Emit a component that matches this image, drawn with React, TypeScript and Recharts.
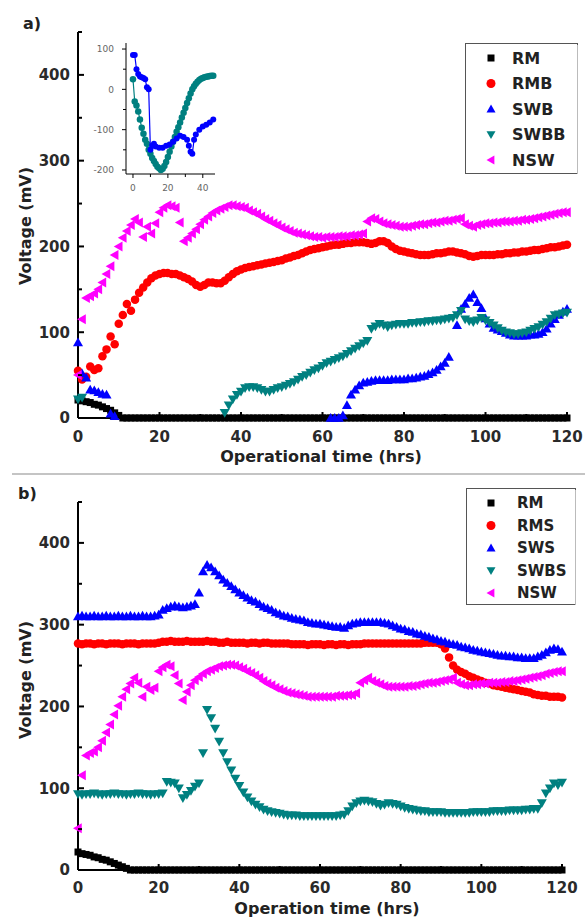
import React from "react";
import { ScatterChart, Scatter, XAxis, YAxis } from "recharts";

const N = null;
const HOURS = Array.from({ length: 121 }, (_, i) => i);

const BLACK = "#000000";
const RED = "#ff0000";
const BLUE = "#0000ff";
const TEAL = "#008080";
const PINK = "#ff00ff";

// ---- a) ----
const RM_A = [
  21, 20, 19, 18, 16, 15, 13, 11, 9, 6,
  3, 0, 0, 0, 0, 0, 0, 0, 0, 0,
  0, 0, 0, 0, 0, 0, 0, 0, 0, 0,
  0, 0, 0, 0, 0, 0, 0, 0, 0, 0,
  0, 0, 0, 0, 0, 0, 0, 0, 0, 0,
  0, 0, 0, 0, 0, 0, 0, 0, 0, 0,
  0, 0, 0, 0, 0, 0, 0, 0, 0, 0,
  0, 0, 0, 0, 0, 0, 0, 0, 0, 0,
  0, 0, 0, 0, 0, 0, 0, 0, 0, 0,
  0, 0, 0, 0, 0, 0, 0, 0, 0, 0,
  0, 0, 0, 0, 0, 0, 0, 0, 0, 0,
  0, 0, 0, 0, 0, 0, 0, 0, 0, 0,
  0,
];
const RMB_A = [
  55, 45, 48, 60, 56, 58, 72, 80, 95, 86,
  110, 120, 133, 125, 138, 146, 152, 158, 163, 166,
  168, 169, 169, 168, 168, 166, 164, 162, 159, 155,
  153, 155, 158, 158, 157, 157, 160, 164, 168, 171,
  173, 175, 176, 177, 178, 179, 180, 181, 182, 183,
  184, 186, 187, 189, 190, 192, 194, 196, 197, 198,
  199, 200, 201, 202, 202, 203, 204, 204, 205, 205,
  205, 204, 203, 204, 206, 206, 204, 200, 197, 195,
  194, 193, 192, 191, 190, 190, 190, 191, 192, 192,
  193, 194, 194, 193, 192, 191, 189, 188, 189, 190,
  190, 190, 190, 191, 191, 192, 192, 193, 193, 194,
  194, 195, 196, 196, 197, 198, 199, 199, 200, 201,
  202,
];
const SWB_A = [
  88, 52, 47, 33, 32, 30, 28, 27, 5, 2,
  N, N, N, N, N, N, N, N, N, N,
  N, N, N, N, N, N, N, N, N, N,
  N, N, N, N, N, N, N, N, N, N,
  N, N, N, N, N, N, N, N, N, N,
  N, N, N, N, N, N, N, N, N, N,
  N, N, 0, 0, 0, 3, 15, 27, 33, 38,
  41, 42, 43, 44, 44, 44, 44, 45, 45, 45,
  45, 46, 46, 47, 48, 49, 51, 53, 56, 60,
  64, 71, N, 108, 127, 133, 140, 144, 135, 128,
  116, 110, 105, 103, 101, 99, 97, 96, 96, 96,
  96, 97, 97, 98, 100, 104, 110, 115, 120, 124,
  127,
];
const SWBB_A = [
  22, 24, N, N, N, N, N, N, N, N,
  N, N, N, N, N, N, N, N, N, N,
  N, N, N, N, N, N, N, N, N, N,
  N, N, N, N, N, N, 6, 15, 22, 27,
  31, 35, 36, 36, 35, 33, 31, 31, 33, 35,
  36, 38, 40, 42, 45, 48, 50, 53, 56, 58,
  61, 64, 66, 68, 70, 72, 75, 78, 81, 84,
  87, 90, 104, 107, 110, 108, 106, 108, 109, 110,
  110, 110, 111, 111, 112, 112, 113, 113, 114, 114,
  115, 116, 117, 120, 125, 115, 113, 112, 114, 117,
  114, 111, 108, 105, 102, 100, 99, 98, 98, 99,
  100, 102, 104, 106, 109, 112, 116, 120, 121, 122,
  123,
];
const NSW_A = [
  50, 115, 140, 142, 145, 150, 158, 168, 177, 190,
  200, 210, 218, 225, 232, 228, 211, 223, 215, 227,
  240, 245, 248, 247, 245, 228, 206, 210, 215, 220,
  226, 231, 235, 239, 242, 244, 246, 248, 248, 247,
  246, 245, 242, 240, 238, 235, 232, 230, 227, 225,
  222, 220, 218, 216, 215, 214, 213, 212, 211, 211,
  210, 211, 211, 211, 212, 212, 212, 213, 213, 214,
  215, 229, 233, 232, 229, 227, 226, 225, 224, 223,
  223, 223, 224, 225, 226, 226, 227, 228, 228, 229,
  230, 230, 231, 232, 233, 226, 224, 223, 225, 226,
  227, 227, 228, 228, 229, 229, 229, 230, 230, 231,
  231, 232, 233, 234, 235, 236, 237, 238, 239, 240,
  240,
];

// inset of a): early hours, negative values included
const INSET_T_SWB = [0, 1, 2, 3, 4, 5, 6, 7, 8, 9, 10, 11, 12, 13, 15, 17, 19, 21, 23, 25, 27, 29, 31, 32, 33, 34, 35, 36, 38, 40, 42, 44, 46];
const INSET_SWB = [85, 85, 50, 38, 32, 30, 28, 25, 5, 0, -150, -140, -135, -142, -145, -145, -140, -137, -130, -122, -115, -118, -125, -140, -155, -160, -125, -112, -100, -92, -88, -82, -75];
const INSET_T_SWBB = [
  0, 1, 2, 3, 4, 5, 6, 7, 8, 9, 10, 11, 12, 13, 14, 15, 16, 17, 18, 19, 20, 21, 22, 23,
  24, 25, 26, 27, 28, 29, 30, 31, 32, 33, 34, 35, 36, 37, 38, 39, 40, 41, 42, 43, 44, 45, 46,
];
const INSET_SWBB = [
  25, -30, -40, -55, -75, -95, -110, -125, -135, -150, -160, -170, -178, -185, -192, -196, -200, -197, -190, -180, -168, -155, -142, -130,
  -118, -105, -94, -82, -70, -58, -46, -34, -22, -10, 0, 8, 14, 19, 23, 26, 28, 30, 31, 32, 33, 34, 34,
];

// ---- b) ----
const RM_B = [
  22, 20, 19, 18, 16, 15, 13, 12, 10, 8,
  6, 4, 2, 0, 0, 0, 0, 0, 0, 0,
  0, 0, 0, 0, 0, 0, 0, 0, 0, 0,
  0, 0, 0, 0, 0, 0, 0, 0, 0, 0,
  0, 0, 0, 0, 0, 0, 0, 0, 0, 0,
  0, 0, 0, 0, 0, 0, 0, 0, 0, 0,
  0, 0, 0, 0, 0, 0, 0, 0, 0, 0,
  0, 0, 0, 0, 0, 0, 0, 0, 0, 0,
  0, 0, 0, 0, 0, 0, 0, 0, 0, 0,
  0, 0, 0, 0, 0, 0, 0, 0, 0, 0,
  0, 0, 0, 0, 0, 0, 0, 0, 0, 0,
  0, 0, 0, 0, 0, 0, 0, 0, 0, 0,
  0,
];
const RMS_B = [
  277, 276, 277, 277, 276, 277, 277, 276, 277, 277,
  277, 276, 277, 277, 277, 276, 277, 277, 277, 277,
  278, 279, 279, 280, 279, 279, 279, 280, 279, 279,
  279, 279, 280, 279, 279, 278, 278, 279, 278, 278,
  278, 278, 277, 278, 278, 277, 278, 278, 277, 277,
  277, 277, 277, 276, 276, 276, 276, 275, 276, 276,
  276, 275, 276, 276, 275, 276, 276, 275, 276, 276,
  276, 277, 277, 277, 277, 277, 277, 277, 277, 277,
  277, 277, 277, 277, 277, 277, 278, 278, 278, 278,
  276, 271, 260, 250, 245, 242, 240, 237, 235, 233,
  231, 229, 228, 226, 225, 224, 223, 222, 221, 220,
  219, 218, 217, 215, 214, 213, 213, 212, 212, 212,
  211,
];
const SWS_B = [
  310, 311, 310, 310, 311, 310, 310, 311, 310, 310,
  311, 310, 310, 311, 310, 310, 311, 310, 310, 311,
  312, 318, 320, 322, 323, 322, 321, 322, 323, 325,
  339, 365, 373, 370, 365, 360, 355, 351, 347, 343,
  339, 336, 333, 330, 328, 325, 322, 320, 318, 315,
  313, 311, 310, 308, 307, 306, 305, 303, 302, 301,
  301, 300, 299, 298, 297, 297, 296, 299, 301, 302,
  303, 303, 303, 303, 303, 303, 302, 301, 299, 297,
  295, 294, 292, 291, 289, 288, 286, 285, 283, 282,
  280, 279, 277, 276, 275, 273, 272, 271, 269, 268,
  267, 266, 265, 264, 263, 262, 262, 261, 261, 260,
  260, 259, 259, 259, 261, 263, 266, 269, 271, 270,
  267,
];
const SWBS_B = [
  93, 92, 93, 93, 94, 93, 92, 93, 93, 94,
  93, 93, 92, 93, 93, 94, 93, 93, 92, 93,
  93, 94, 108, 107, 106, 100, 88, 92, 97, 102,
  106, 143, 196, 186, 173, 157, 143, 132, 122, 112,
  103, 95, 89, 84, 80, 77, 74, 72, 71, 70,
  69, 68, 67, 67, 67, 66, 66, 66, 66, 66,
  66, 66, 66, 66, 66, 67, 68, 72, 78, 82,
  84, 85, 84, 83, 81, 79, 80, 82, 81, 80,
  78, 76, 75, 74, 73, 72, 72, 71, 71, 71,
  71, 70, 70, 70, 70, 70, 70, 70, 71, 71,
  71, 71, 71, 72, 72, 72, 72, 73, 73, 73,
  73, 74, 74, 75, 75, 82, 94, 100, 106, 104,
  107,
];
const NSW_B = [
  51, 116, 140, 143, 145, 150, 158, 168, 178, 190,
  201, 212, 221, 228, 235, 229, 212, 224, 220, 223,
  243, 248, 251, 249, 238, 228, 208, 218, 226, 232,
  236, 240, 243, 245, 247, 249, 250, 251, 251, 250,
  248, 246, 243, 241, 238, 235, 231, 228, 226, 223,
  221, 219, 217, 216, 215, 214, 213, 212, 212, 212,
  212, 212, 212, 212, 213, 213, 213, 214, 214, 216,
  229, 232, 235, 231, 229, 227, 225, 224, 224, 224,
  224, 224, 225, 225, 226, 227, 228, 229, 229, 230,
  231, 232, 233, 235, 229, 227, 226, 226, 227, 227,
  228, 228, 229, 229, 229, 230, 230, 231, 231, 232,
  233, 234, 235, 236, 237, 238, 240, 241, 242, 243,
  243,
];

const X_TICKS = [0, 10, 20, 30, 40, 50, 60, 70, 80, 90, 100, 110, 120];
const Y_TICKS = [0, 50, 100, 150, 200, 250, 300, 350, 400, 450];

const FONT = "'DejaVu Sans', Verdana, sans-serif";

const SERIES_A = [
  { name: "RM", values: RM_A, color: BLACK, kind: "square" },
  { name: "RMB", values: RMB_A, color: RED, kind: "circle" },
  { name: "SWB", values: SWB_A, color: BLUE, kind: "up" },
  { name: "SWBB", values: SWBB_A, color: TEAL, kind: "down" },
  { name: "NSW", values: NSW_A, color: PINK, kind: "left" },
];
const SERIES_B = [
  { name: "RM", values: RM_B, color: BLACK, kind: "square" },
  { name: "RMS", values: RMS_B, color: RED, kind: "circle" },
  { name: "SWS", values: SWS_B, color: BLUE, kind: "up" },
  { name: "SWBS", values: SWBS_B, color: TEAL, kind: "down" },
  { name: "NSW", values: NSW_B, color: PINK, kind: "left" },
];

const toPoints = (vals: (number | null)[]) =>
  HOURS.map((t, i) => ({ t, v: vals[i] })).filter((p) => p.v !== null && p.v !== undefined);

const pairs = (ts: number[], vs: number[]) => ts.map((t, i) => ({ t, v: vs[i] }));

const SIZES: Record<string, number> = { square: 7, circle: 8.5, up: 10, down: 10, left: 10 };

const Mark = ({ kind, cx, cy, s, fill }: any) => {
  if (cx == null || cy == null) return null;
  const h = s / 2;
  if (kind === "square") return <rect x={cx - h} y={cy - h} width={s} height={s} fill={fill} />;
  if (kind === "circle") return <circle cx={cx} cy={cy} r={h} fill={fill} />;
  let pts: number[][];
  if (kind === "up") pts = [[cx, cy - h], [cx + h, cy + h * 0.75], [cx - h, cy + h * 0.75]];
  else if (kind === "down") pts = [[cx, cy + h], [cx + h, cy - h * 0.75], [cx - h, cy - h * 0.75]];
  else pts = [[cx - h, cy], [cx + h * 0.75, cy - h], [cx + h * 0.75, cy + h]];
  return <polygon points={pts.map((p) => p.join(",")).join(" ")} fill={fill} />;
};

// ticks drawn by hand so minor ticks can be shorter (tickSize/tickMargin are 0, so x/y is on the axis)
const makeYTick = (o: any) => (p: any) => {
  const { x, y, payload } = p;
  const v = payload.value;
  const major = o.isMajor(v);
  const len = major ? o.len : o.minorLen;
  const dir = o.inward ? 1 : -1;
  return (
    <g>
      <line x1={x} x2={x + dir * len} y1={y} y2={y} stroke="#000" strokeWidth={o.sw} />
      {major && (
        <text x={x - o.gap} y={y} dy="0.36em" textAnchor="end" fontFamily={FONT} fontSize={o.fs}
          fontWeight={o.bold ? "bold" : "normal"} fill={o.color}>
          {v}
        </text>
      )}
    </g>
  );
};

const makeXTick = (o: any) => (p: any) => {
  const { x, y, payload } = p;
  const v = payload.value;
  const major = o.isMajor(v);
  const len = major ? o.len : o.minorLen;
  const dir = o.inward ? -1 : 1;
  return (
    <g>
      <line x1={x} x2={x} y1={y} y2={y + dir * len} stroke="#000" strokeWidth={o.sw} />
      {major && (
        <text x={x} y={y + o.gap} textAnchor="middle" fontFamily={FONT} fontSize={o.fs}
          fontWeight={o.bold ? "bold" : "normal"} fill={o.color}>
          {v}
        </text>
      )}
    </g>
  );
};

const yTickMain = makeYTick({ isMajor: (v: number) => v % 100 === 0, len: 6, minorLen: 4, inward: true, sw: 2, gap: 8, fs: 15, bold: true, color: "#2a2a2a" });
const xTickA = makeXTick({ isMajor: (v: number) => v % 20 === 0, len: 6, minorLen: 4, inward: true, sw: 2, gap: 24, fs: 15, bold: true, color: "#2a2a2a" });
const xTickB = makeXTick({ isMajor: (v: number) => v % 20 === 0, len: 6, minorLen: 4, inward: true, sw: 2, gap: 23, fs: 15, bold: true, color: "#2a2a2a" });
const yTickInset = makeYTick({ isMajor: (v: number) => v % 100 === 0, len: 4, minorLen: 3, inward: false, sw: 1, gap: 12, fs: 9, bold: false, color: "#666" });
const xTickInset = makeXTick({ isMajor: (v: number) => v % 20 === 0, len: 4, minorLen: 3, inward: false, sw: 1, gap: 17, fs: 9, bold: false, color: "#666" });

const Panel = ({ series, height, margin, xTick }: any) => (
  <ScatterChart width={585} height={height} margin={margin}>
    <XAxis type="number" dataKey="t" domain={[0, 120]} ticks={X_TICKS} interval={0} height={30}
      tickSize={0} tickMargin={0} tickLine={false} axisLine={{ stroke: "#000", strokeWidth: 2 }} tick={xTick} />
    <YAxis type="number" dataKey="v" domain={[0, 450]} ticks={Y_TICKS} interval={0} width={40}
      tickSize={0} tickMargin={0} tickLine={false} axisLine={{ stroke: "#000", strokeWidth: 2 }} tick={yTickMain} />
    {series.map((s: any) => (
      <Scatter key={s.name} name={s.name} data={toPoints(s.values)} fill={s.color} isAnimationActive={false}
        shape={(p: any) => <Mark kind={s.kind} cx={p.cx} cy={p.cy} s={SIZES[s.kind]} fill={s.color} />} />
    ))}
  </ScatterChart>
);

const LegendBox = ({ items, left, top, width, height, firstY, gap, markX, textX, fs }: any) => (
  <svg width={width} height={height} style={{ position: "absolute", left, top }}>
    <rect x={0.5} y={0.5} width={width - 1} height={height - 1} fill="#fff" stroke="#555" strokeWidth={1} />
    <line x1={width - 0.5} x2={width - 0.5} y1={2} y2={height} stroke="#bbb" strokeWidth={1} />
    {items.map((it: any, i: number) => {
      const cy = firstY + i * gap;
      return (
        <g key={it.name}>
          <Mark kind={it.kind} cx={markX} cy={cy} s={it.kind === "square" ? 7 : 9} fill={it.color} />
          <text x={textX} y={cy} dy="0.36em" fontFamily={FONT} fontSize={fs} fontWeight="bold" fill="#222">
            {it.name}
          </text>
        </g>
      );
    })}
  </svg>
);

const App = () => (
  <div style={{ position: "absolute", left: 0, top: 0, width: 585, height: 920, background: "#fff", overflow: "hidden" }}>
    <div style={{ position: "absolute", left: 0, top: 0 }}>
      <Panel series={SERIES_A} height={460} margin={{ top: 32, right: 18, bottom: 12, left: 38 }} xTick={xTickA} />
    </div>

    {/* inset */}
    <div style={{ position: "absolute", left: 90, top: 35 }}>
      <ScatterChart width={130} height={160} margin={{ top: 8, right: 5, bottom: 5, left: 6 }}>
        <XAxis type="number" dataKey="t" domain={[-4, 47]} ticks={[0, 10, 20, 30, 40]} interval={0} height={16}
          tickSize={0} tickMargin={0} tickLine={false} axisLine={{ stroke: "#000", strokeWidth: 1 }} tick={xTickInset} />
        <YAxis type="number" dataKey="v" domain={[-210, 115]} ticks={[-200, -150, -100, -50, 0, 50, 100]} interval={0} width={30}
          tickSize={0} tickMargin={0} tickLine={false} axisLine={{ stroke: "#000", strokeWidth: 1 }} tick={yTickInset} />
        <Scatter data={pairs(INSET_T_SWBB, INSET_SWBB)} fill={TEAL} line={{ stroke: TEAL, strokeWidth: 1.2 }} isAnimationActive={false}
          shape={(p: any) => <Mark kind="circle" cx={p.cx} cy={p.cy} s={6.5} fill={TEAL} />} />
        <Scatter data={pairs(INSET_T_SWB, INSET_SWB)} fill={BLUE} line={{ stroke: BLUE, strokeWidth: 1.2 }} isAnimationActive={false}
          shape={(p: any) => <Mark kind="circle" cx={p.cx} cy={p.cy} s={6} fill={BLUE} />} />
      </ScatterChart>
    </div>

    <LegendBox items={SERIES_A} left={465} top={43} width={113} height={131} firstY={15} gap={25.5} markX={26} textX={47} fs={16} />

    <div style={{ position: "absolute", left: 12, top: 473, width: 573, height: 2, background: "#c4c4c4" }} />

    <div style={{ position: "absolute", left: 0, top: 470 }}>
      <Panel series={SERIES_B} height={450} margin={{ top: 32, right: 23, bottom: 20, left: 38 }} xTick={xTickB} />
    </div>

    <LegendBox items={SERIES_B} left={466} top={488} width={110} height={117} firstY={15} gap={22.5} markX={25} textX={51} fs={15} />

    <svg width={585} height={920} style={{ position: "absolute", left: 0, top: 0, pointerEvents: "none" }}>
      <g fontFamily={FONT} fontWeight="bold" fill="#222">
        <text x={23} y={29} fontSize={16}>a)</text>
        <text x={18} y={499} fontSize={16}>b)</text>
        <text transform="translate(31,226) rotate(-90)" textAnchor="middle" fontSize={16}>Voltage (mV)</text>
        <text transform="translate(31,680) rotate(-90)" textAnchor="middle" fontSize={16}>Voltage (mV)</text>
        <text x={321} y={462} textAnchor="middle" fontSize={16}>Operational time (hrs)</text>
        <text x={327} y={914} textAnchor="middle" fontSize={16}>Operation time (hrs)</text>
      </g>
    </svg>
  </div>
);

export default App;
